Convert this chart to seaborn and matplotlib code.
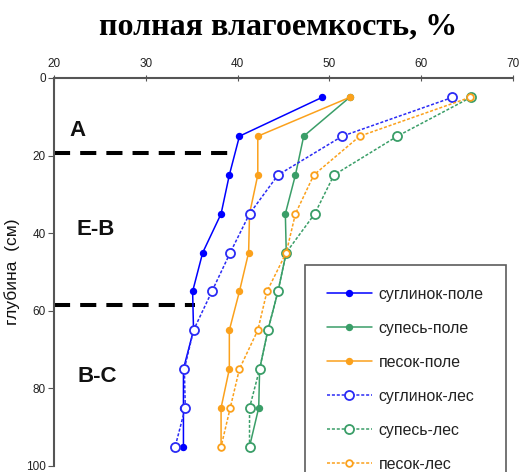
import numpy as np
import pandas as pd
import seaborn as sns
import matplotlib.pyplot as plt

depth = [5, 15, 25, 35, 45, 55, 65, 75, 85, 95]

suglinok_pole = [49.2, 40.2, 39.1, 38.2, 36.2, 35.1, 35.2, 34.1, 34.1, 34.1]
supes_pole = [52.2, 47.2, 46.3, 45.2, 45.3, 44.4, 43.3, 42.4, 42.3, 41.3]
pesok_pole = [52.2, 42.2, 42.2, 41.3, 41.2, 40.2, 39.1, 39.1, 38.2, 38.2]
suglinok_les = [63.4, 51.4, 44.4, 41.3, 39.2, 37.2, 35.2, 34.2, 34.3, 33.2]
supes_les = [65.4, 57.4, 50.5, 48.4, 45.3, 44.4, 43.3, 42.4, 41.3, 41.3]
pesok_les = [65.3, 53.3, 48.3, 46.3, 45.3, 43.2, 42.2, 40.2, 39.2, 38.2]

labels = ["суглинок-поле", "супесь-поле", "песок-поле",
          "суглинок-лес", "супесь-лес", "песок-лес"]
colors = ["#0000ff", "#3a9e68", "#fba11c", "#2b2bf5", "#3a9e68", "#fba11c"]

sns.set_style("white")
plt.rcParams['font.family'] = ['Liberation Sans', 'DejaVu Sans']

fig = plt.figure(figsize=(5.28, 4.72), dpi=100)
ax = fig.add_axes([54/528, 1 - 466/472, 459/528, 388/472])

series = [suglinok_pole, supes_pole, pesok_pole, suglinok_les, supes_les, pesok_les]
for i, vals in enumerate(series):
    forest = i >= 3
    if not forest:
        ms = 4
    elif i == 5:
        ms = 4.8
    else:
        ms = 6.5
    sns.lineplot(x=vals, y=depth, orient="y", sort=False, estimator=None,
                 color=colors[i], marker="o", markersize=ms,
                 markerfacecolor="white" if forest else colors[i],
                 markeredgecolor=colors[i], markeredgewidth=1.3,
                 linestyle=(0, (2, 1.2)) if forest else "-",
                 linewidth=1.1, label=labels[i], ax=ax)

ax.set_xlim(20, 70)
ax.set_ylim(100, 0)
ax.set_xticks([20, 30, 40, 50, 60, 70])
ax.set_yticks([0, 20, 40, 60, 80, 100])
ax.xaxis.tick_top()
ax.tick_params(axis="x", direction="inout", length=5, labelsize=8.5, pad=3,
               color="#555555", labelcolor="#222222")
ax.tick_params(axis="y", direction="out", length=4, labelsize=8.5, pad=2,
               color="#555555", labelcolor="#222222", left=True)
ax.set_xlabel("")
ax.set_ylabel("глубина  (см)", fontsize=12.5, color="#111111")
ax.yaxis.set_label_coords(-0.074, 0.5)
for side in ["right", "bottom"]:
    ax.spines[side].set_visible(False)
for side in ["left", "top"]:
    ax.spines[side].set_color("#555555")
    ax.spines[side].set_linewidth(1.5)

# horizon boundaries
ax.plot([20, 39.7], [19.3, 19.3], color="black", linestyle=(0, (4, 2.5)),
        linewidth=2.9, clip_on=False, zorder=1)
ax.plot([20, 35.4], [58.6, 58.6], color="black", linestyle=(0, (4, 2.5)),
        linewidth=2.9, clip_on=False, zorder=1)
ax.text(22.6, 13.6, "A", fontsize=16, fontweight="bold", ha="center", va="center", color="#111111")
ax.text(24.5, 39, "E-B", fontsize=16, fontweight="bold", ha="center", va="center", color="#111111")
ax.text(24.7, 77, "B-C", fontsize=16, fontweight="bold", ha="center", va="center", color="#111111")

leg = ax.legend(loc="upper left", bbox_to_anchor=(0.547, 0.519), fontsize=11.4,
                handlelength=2.8, handletextpad=0.45, labelspacing=1.2,
                borderpad=1.4, frameon=True, fancybox=False,
                edgecolor="#333333", borderaxespad=0)
leg.get_frame().set_linewidth(1.2)
for t in leg.get_texts():
    t.set_color("#222222")

fig.text(0.527, 0.944, "полная влагоемкость, %", fontsize=23, fontweight="bold",
         family="Liberation Serif", ha="center", va="center", color="black")

fig.savefig("out.png", dpi=100)
